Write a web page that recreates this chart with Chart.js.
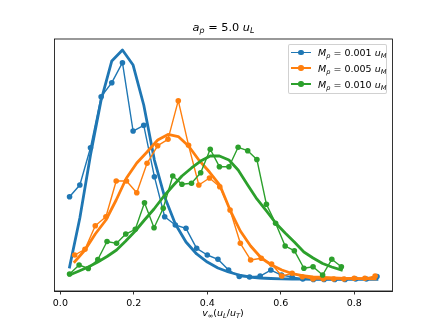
<!DOCTYPE html>
<html><head><meta charset="utf-8">
<script src="https://cdn.jsdelivr.net/npm/chart.js@4.4.0/dist/chart.umd.min.js"></script>
<style>
html,body{margin:0;padding:0;background:#fff;}
#wrap{position:relative;width:436px;height:327px;overflow:hidden;font-family:"DejaVu Sans",sans-serif;color:#000;}
canvas{position:absolute;left:0;top:0;}
.t{position:absolute;white-space:nowrap;line-height:1;}
.sub{font-size:70%;position:relative;top:0.28em;}
i{font-style:italic;}
#legend{position:absolute;left:287.5px;top:43.5px;width:99px;height:50px;border:1px solid rgba(204,204,204,0.9);border-radius:2px;background:rgba(255,255,255,0.8);box-sizing:border-box;}
.lrow{position:absolute;left:0;width:100%;height:16px;}
.lline{position:absolute;left:2px;width:20.7px;height:1.5px;}
.ldot{position:absolute;left:9.5px;width:5.6px;height:5.6px;border-radius:50%;}
.ltext{position:absolute;left:29.5px;font-size:9.5px;line-height:1;white-space:nowrap;}
</style></head><body>
<div id="wrap">
<canvas id="c" width="436" height="327"></canvas>
<div class="t" id="title" style="left:123.5px;width:200px;text-align:center;top:22px;font-size:11.3px;"><i>a</i><span class="sub"><i>p</i></span> = 5.0 <i>u</i><span class="sub"><i>L</i></span></div>
<div class="t" id="xlabel" style="left:123px;width:200px;text-align:center;top:308px;font-size:9.5px;"><i>v</i><span class="sub">∞</span>(<i>u</i><span class="sub"><i>L</i></span>/<i>u</i><span class="sub"><i>T</i></span>)</div>
<div id="legend"></div>
</div>
<script>
// ---- data ----
const massLabels = ['0.001', '0.005', '0.010'];
const xTicks = [0.0, 0.2, 0.4, 0.6, 0.8];

const blueX = [0.025,0.053,0.082,0.111,0.140,0.169,0.198,0.227,0.256,0.284,0.313,0.342,0.371,0.400,0.429,0.458,0.487,0.515,0.544,0.573,0.602,0.631,0.660,0.689,0.718,0.747,0.775,0.804,0.833,0.862];
const blueHist = [1.808,2.063,2.878,3.991,4.297,4.734,3.242,3.367,2.245,1.371,1.190,1.118,0.681,0.535,0.441,0.207,0.066,0.055,0.076,0.207,0.098,0.055,0.011,0.000,0.000,0.000,0.000,0.011,0.011,0.066];
const blueFit = [0.273,1.343,2.718,3.919,4.771,5.011,4.683,3.810,2.609,1.801,1.212,0.819,0.557,0.382,0.251,0.164,0.098,0.055,0.033,0.022,0.015,0.011,0.008,0.006,0.005,0.004,0.003,0.002,0.002,0.001];

const orangeX = [0.039,0.067,0.095,0.124,0.152,0.180,0.208,0.236,0.265,0.293,0.321,0.349,0.377,0.406,0.434,0.462,0.490,0.518,0.547,0.575,0.603,0.631,0.659,0.688,0.716,0.744,0.772,0.800,0.829,0.857];
const orangeHist = [0.535,0.659,1.175,1.371,2.151,2.151,1.895,2.537,2.921,3.061,3.904,2.930,2.063,2.216,2.026,1.517,0.790,0.426,0.463,0.338,0.076,0.135,0.061,0.011,0.011,0.011,0.011,0.026,0.026,0.076];
const orangeFit = [0.389,0.644,0.993,1.299,1.736,2.216,2.544,2.784,3.046,3.166,3.122,2.915,2.609,2.347,2.063,1.517,1.059,0.731,0.469,0.317,0.207,0.131,0.087,0.055,0.044,0.033,0.026,0.022,0.020,0.017];

const greenX = [0.025,0.051,0.076,0.102,0.127,0.153,0.178,0.204,0.229,0.255,0.280,0.306,0.331,0.357,0.382,0.408,0.433,0.459,0.484,0.510,0.535,0.561,0.586,0.612,0.637,0.663,0.688,0.714,0.739,0.765];
const greenHist = [0.120,0.317,0.240,0.437,0.830,0.790,0.993,1.096,1.677,1.131,1.555,2.260,2.079,2.100,2.332,2.843,2.463,2.463,2.886,2.812,2.620,1.642,1.227,0.731,0.629,0.245,0.279,0.098,0.441,0.279];
const greenFit = [0.098,0.186,0.273,0.382,0.502,0.644,0.841,1.059,1.299,1.539,1.801,2.041,2.260,2.435,2.587,2.697,2.697,2.609,2.391,2.063,1.758,1.496,1.234,1.015,0.819,0.600,0.469,0.349,0.273,0.207];

const colors = ['#1f77b4', '#ff7f0e', '#2ca02c'];
const series = [
  {x: blueX, hist: blueHist, fit: blueFit},
  {x: orangeX, hist: orangeHist, fit: orangeFit},
  {x: greenX, hist: greenHist, fit: greenFit}
];

const datasets = [];
series.forEach((s, k) => {
  datasets.push({
    label: 'M_p = ' + massLabels[k],
    data: s.x.map((x, i) => ({x: x, y: s.hist[i]})),
    showLine: true, borderColor: colors[k], backgroundColor: colors[k],
    borderWidth: 1.4, pointRadius: 2.8, pointHoverRadius: 2.8, pointBorderWidth: 0,
    borderJoinStyle: 'round', tension: 0, order: 10 - 2 * k
  });
  datasets.push({
    label: 'fit ' + massLabels[k],
    data: s.x.map((x, i) => ({x: x, y: s.fit[i]})),
    showLine: true, borderColor: colors[k], backgroundColor: colors[k],
    borderWidth: 2.8, pointRadius: 0, pointHoverRadius: 0,
    borderJoinStyle: 'round', borderCapStyle: 'square', tension: 0, order: 9 - 2 * k
  });
});

const frame = {
  id: 'frame',
  afterDraw(chart) {
    const a = chart.chartArea, ctx = chart.ctx;
    ctx.save();
    ctx.strokeStyle = '#000';
    ctx.lineWidth = 0.8;
    ctx.strokeRect(a.left, a.top, a.right - a.left, a.bottom - a.top);
    ctx.restore();
  }
};

new Chart(document.getElementById('c'), {
  type: 'scatter',
  data: {datasets: datasets},
  options: {
    responsive: false, animation: false, devicePixelRatio: 1,
    layout: {padding: {left: 54.5, right: 43.6, top: 39, bottom: 0}},
    plugins: {legend: {display: false}, title: {display: false}, tooltip: {enabled: false}},
    scales: {
      x: {
        type: 'linear', min: -0.016, max: 0.904,
        afterBuildTicks: (s) => { s.ticks = xTicks.map(v => ({value: v})); },
        afterFit: (s) => { s.height = 36; },
        ticks: {color: '#000', padding: 3, maxRotation: 0, autoSkip: false,
                font: {family: 'DejaVu Sans', size: 9.5},
                callback: (v) => Number(v).toFixed(1)},
        grid: {drawOnChartArea: false, drawTicks: true, tickLength: 3.5, color: '#000', lineWidth: 0.8},
        border: {display: true, color: '#000', width: 0.8}
      },
      y: {display: false, min: -0.251, max: 5.251}
    }
  },
  plugins: [frame]
});

// legend (HTML so that sub-scripts stay real text)
const leg = document.getElementById('legend');
massLabels.forEach((m, k) => {
  const row = document.createElement('div');
  row.className = 'lrow';
  row.style.top = (k * 15.8) + 'px';
  row.innerHTML =
    '<div class="lline" style="top:7.2px;background:' + colors[k] + '"></div>' +
    '<div class="ldot" style="top:5.2px;background:' + colors[k] + '"></div>' +
    '<div class="ltext" style="top:3.6px"><i>M</i><span class="sub"><i>p</i></span> = ' + m +
    ' <i>u</i><span class="sub"><i>M</i></span></div>';
  leg.appendChild(row);
});
</script>
</body></html>
